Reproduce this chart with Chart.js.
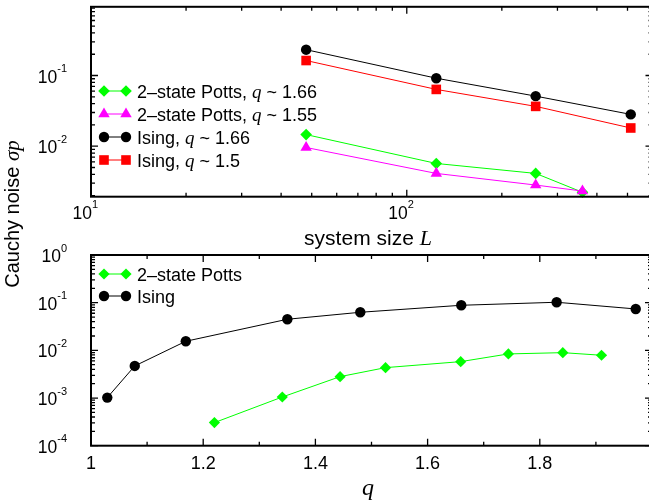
<!DOCTYPE html>
<html><head><meta charset="utf-8">
<script src="https://cdn.jsdelivr.net/npm/chart.js@4.4.0/dist/chart.umd.min.js"></script>
<style>
html,body{margin:0;padding:0;background:#fff;overflow:hidden;}
#wrap{position:relative;width:649px;height:502px;overflow:hidden;background:#fff;}
canvas{position:absolute;left:0;top:0;}
</style></head><body>
<div id="wrap"><canvas id="c1" width="660" height="502"></canvas><canvas id="c2" width="660" height="502"></canvas></div>
<script>
// ---------- data: top panel (sigma_p vs system size L) ----------
const sizeL      = [48, 124, 256, 512];
const sizeLPotts = [48, 124, 256, 360];
const isingQ166  = [0.232, 0.0916, 0.0511, 0.0282];
const isingQ15   = [0.163, 0.0636, 0.0366, 0.0181];
const pottsQ166  = [0.0146, 0.0057, 0.00412, 0.00223];
const pottsQ155  = [0.00959, 0.00412, 0.00282, 0.00232];
// ---------- data: bottom panel (sigma_p vs q) ----------
const qIsing     = [1.029, 1.078, 1.169, 1.350, 1.480, 1.660, 1.830, 1.971];
const sigmaIsing = [0.00102, 0.00471, 0.0155, 0.0449, 0.0629, 0.0882, 0.102, 0.0738];
const qPotts     = [1.220, 1.341, 1.444, 1.525, 1.659, 1.744, 1.841, 1.910];
const sigmaPotts = [0.000305, 0.00105, 0.00281, 0.00434, 0.00580, 0.00841, 0.00895, 0.00789];
// ---------- tick labels ----------
const topXTickExp = [1, 2];
const topYTickExp = [-2, -1];
const botXTicks   = [1, 1.2, 1.4, 1.6, 1.8];
const botXLabels  = ['1', '1.2', '1.4', '1.6', '1.8'];
const botYTickExp = [-4, -3, -2, -1, 0];

const SANS = '"Liberation Sans", Arial, sans-serif';
const SERIF = '"Liberation Serif", "Times New Roman", serif';

function ds(xs, ys, color, style, r, order) {
  return {
    data: xs.map((x, i) => ({x: x, y: ys[i]})),
    borderColor: color, backgroundColor: color, borderWidth: 1,
    pointStyle: style, pointRadius: r, pointHoverRadius: r,
    pointBackgroundColor: color, pointBorderColor: color, pointBorderWidth: 0,
    order: order, clip: false, tension: 0
  };
}

function logMinor(lo, hi) {
  const out = [];
  for (let e = Math.floor(Math.log10(lo)) - 1; e <= Math.ceil(Math.log10(hi)); e++) {
    for (let k = 1; k <= 9; k++) {
      const v = k * Math.pow(10, e);
      if (v >= lo * 0.999 && v <= hi * 1.001) out.push({v: v, major: k === 1});
    }
  }
  return out;
}
function linTicks(lo, hi, step, majorStep) {
  const out = [];
  for (let v = lo; v <= hi + 1e-9; v += step) {
    const vv = Math.round(v * 1000) / 1000;
    out.push({v: vv, major: Math.abs(Math.round((vv - lo) / majorStep) * majorStep - (vv - lo)) < 1e-6});
  }
  return out;
}

function marker(ctx, style, x, y, r, color) {
  ctx.fillStyle = color;
  ctx.beginPath();
  if (style === 'circle') {
    ctx.arc(x, y, r, 0, Math.PI * 2);
  } else if (style === 'rect') {
    const s = r * Math.SQRT1_2;
    ctx.rect(x - s, y - s, 2 * s, 2 * s);
  } else if (style === 'rectRot') {
    ctx.moveTo(x, y - r); ctx.lineTo(x + r, y); ctx.lineTo(x, y + r); ctx.lineTo(x - r, y); ctx.closePath();
  } else if (style === 'triangle') {
    for (let i = 0; i < 3; i++) {
      const a = i * 2 * Math.PI / 3;
      const px = x + Math.sin(a) * r, py = y - Math.cos(a) * r;
      if (i === 0) ctx.moveTo(px, py); else ctx.lineTo(px, py);
    }
    ctx.closePath();
  }
  ctx.fill();
}

function richText(ctx, parts, x, y, align) {
  let w = 0;
  parts.forEach(p => { ctx.font = p.f; p.w = ctx.measureText(p.t).width; w += p.w; });
  let cx = align === 'center' ? x - w / 2 : (align === 'right' ? x - w : x);
  ctx.textAlign = 'left'; ctx.textBaseline = 'alphabetic';
  parts.forEach(p => { ctx.font = p.f; ctx.fillText(p.t, cx, y + (p.dy || 0)); cx += p.w; });
  return w;
}
function powParts(exp) {
  return [{t: '10', f: '17.5px ' + SANS}, {t: (exp < 0 ? '-' : '') + Math.abs(exp), f: '11px ' + SANS, dy: -10.5}];
}

function legend(ctx, items, x0, y0, dy) {
  items.forEach((it, i) => {
    const y = y0 + i * dy;
    ctx.strokeStyle = it.color; ctx.lineWidth = 1;
    ctx.beginPath(); ctx.moveTo(x0, y); ctx.lineTo(x0 + 22, y); ctx.stroke();
    marker(ctx, it.style, x0, y, it.r, it.color);
    marker(ctx, it.style, x0 + 22, y, it.r, it.color);
    ctx.fillStyle = '#000';
    richText(ctx, it.parts, x0 + 33, y + 6.8, 'left');
  });
}

function framePlugin(spec) {
  return {
    id: 'frame',
    afterDraw(chart) {
      const ctx = chart.ctx, a = chart.chartArea, xs = chart.scales.x, ys = chart.scales.y;
      ctx.save();
      ctx.strokeStyle = '#000'; ctx.lineWidth = 1.3;
      ctx.beginPath();
      spec.xTicks.forEach(t => {
        const px = xs.getPixelForValue(t.v), L = t.major ? 7 : 4;
        ctx.moveTo(px, a.bottom); ctx.lineTo(px, a.bottom - L);
        ctx.moveTo(px, a.top); ctx.lineTo(px, a.top + L);
      });
      spec.yTicks.forEach(t => {
        const py = ys.getPixelForValue(t.v), L = t.major ? 7 : 4;
        ctx.moveTo(a.left, py); ctx.lineTo(a.left + L, py);
        ctx.moveTo(a.right, py); ctx.lineTo(a.right - L, py);
      });
      ctx.stroke();
      ctx.lineWidth = 2;
      ctx.strokeRect(a.left, a.top, a.right - a.left, a.bottom - a.top);
      ctx.fillStyle = '#000';
      spec.labels(ctx, a, xs, ys);
      ctx.restore();
    }
  };
}

// ---------- top chart ----------
const topX = [10, 600], topY = [0.00193, 0.938];
new Chart(document.getElementById('c1'), {
  type: 'line',
  data: {datasets: [
    ds(sizeL, isingQ15, '#ff0000', 'rect', 6.8, 0),
    ds(sizeL, isingQ166, '#000000', 'circle', 5.2, 1),
    ds(sizeLPotts, pottsQ155, '#ff00ff', 'triangle', 6.6, 2),
    ds(sizeLPotts, pottsQ166, '#00ff00', 'rectRot', 5.8, 3)
  ]},
  options: {
    responsive: false, animation: false, devicePixelRatio: 1,
    layout: {padding: {left: 91, top: 6, right: 7.5, bottom: 305.3}},
    plugins: {legend: {display: false}, tooltip: {enabled: false}},
    scales: {
      x: {type: 'logarithmic', min: topX[0], max: topX[1], display: false, bounds: 'data'},
      y: {type: 'logarithmic', min: topY[0], max: topY[1], display: false, bounds: 'data'}
    }
  },
  plugins: [framePlugin({
    xTicks: logMinor(topX[0], topX[1]),
    yTicks: logMinor(topY[0], topY[1]),
    labels(ctx, a, xs, ys) {
      topYTickExp.forEach(e => {
        richText(ctx, powParts(e), a.left - 24, ys.getPixelForValue(Math.pow(10, e)) + 7, 'right');
      });
      topXTickExp.forEach(e => {
        const px = xs.getPixelForValue(Math.pow(10, e));
        const p = powParts(e);
        ctx.font = p[0].f; const w10 = ctx.measureText('10').width;
        richText(ctx, p, px + 1 - w10, a.bottom + 22, 'left');
      });
      richText(ctx, [{t: 'system size ', f: '21px ' + SANS}, {t: 'L', f: 'italic 22px ' + SERIF}], 368, 245, 'center');
      const sub = (lbl, val) => [{t: lbl + ', ', f: '18px ' + SANS}, {t: 'q', f: 'italic 19px ' + SERIF}, {t: ' ~ ' + val, f: '18px ' + SANS}];
      legend(ctx, [
        {style: 'rectRot', r: 5.8, color: '#00ff00', parts: sub('2\u2013state Potts', '1.66')},
        {style: 'triangle', r: 6.6, color: '#ff00ff', parts: sub('2\u2013state Potts', '1.55')},
        {style: 'circle', r: 5.2, color: '#000000', parts: sub('Ising', '1.66')},
        {style: 'rect', r: 6.8, color: '#ff0000', parts: sub('Ising', '1.5')}
      ], 104, 91, 23);
    }
  })]
});

// ---------- bottom chart ----------
const botX = [1, 2], botY = [1e-4, 1];
new Chart(document.getElementById('c2'), {
  type: 'line',
  data: {datasets: [
    ds(qIsing, sigmaIsing, '#000000', 'circle', 5.2, 0),
    ds(qPotts, sigmaPotts, '#00ff00', 'rectRot', 5.6, 1)
  ]},
  options: {
    responsive: false, animation: false, devicePixelRatio: 1,
    layout: {padding: {left: 91, top: 255, right: 8, bottom: 56.3}},
    plugins: {legend: {display: false}, tooltip: {enabled: false}},
    scales: {
      x: {type: 'linear', min: botX[0], max: botX[1], display: false, bounds: 'data'},
      y: {type: 'logarithmic', min: botY[0], max: botY[1], display: false, bounds: 'data'}
    }
  },
  plugins: [framePlugin({
    xTicks: linTicks(botX[0], botX[1], 0.1, 0.2),
    yTicks: logMinor(botY[0], botY[1]),
    labels(ctx, a, xs, ys) {
      botYTickExp.forEach(e => {
        richText(ctx, powParts(e), a.left - 24, ys.getPixelForValue(Math.pow(10, e)) + 7, 'right');
      });
      botXTicks.forEach((v, i) => {
        ctx.font = '18px ' + SANS; ctx.textAlign = 'center'; ctx.textBaseline = 'alphabetic';
        ctx.fillText(botXLabels[i], xs.getPixelForValue(v), a.bottom + 23);
      });
      ctx.font = 'italic 24px ' + SERIF; ctx.textAlign = 'center';
      ctx.fillText('q', 368, 495);
      legend(ctx, [
        {style: 'rectRot', r: 5.6, color: '#00ff00', parts: [{t: '2\u2013state Potts', f: '18px ' + SANS}]},
        {style: 'circle', r: 5.2, color: '#000000', parts: [{t: 'Ising', f: '18px ' + SANS}]}
      ], 104, 274, 22);
      // shared y-axis title
      ctx.save();
      ctx.translate(18.5, 214);
      ctx.rotate(-Math.PI / 2);
      richText(ctx, [{t: 'Cauchy noise ', f: '20px ' + SANS}, {t: '\u03c3p', f: 'italic 21px ' + SERIF}], 0, 0, 'center');
      ctx.restore();
    }
  })]
});
</script>
</body></html>
